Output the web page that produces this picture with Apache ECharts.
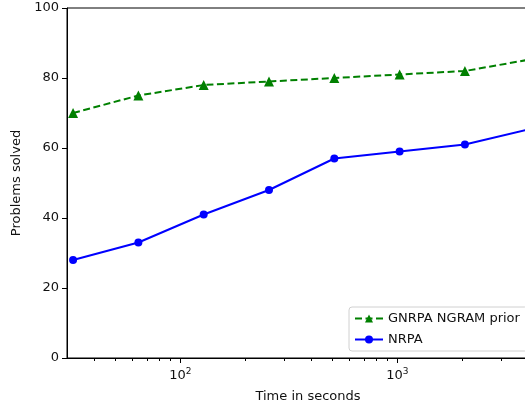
<!DOCTYPE html>
<html>
<head>
<meta charset="utf-8">
<script src="https://cdn.jsdelivr.net/npm/echarts@6/dist/echarts.min.js"></script>
<style>
  html, body { margin: 0; padding: 0; background: #fff; }
  #chart { width: 525px; height: 409px; }
</style>
</head>
<body>
<div id="chart"></div>
<script>
// data
const times = [32, 64, 128, 256, 512, 1024, 2048, 4096];
const gnrpa = [70, 75, 78, 79, 80, 81, 82, 85.3];
const nrpa = [28, 33, 41, 48, 57, 59, 61, 65.4];
const majorTicks = [100, 1000];
const minorTicks = [40, 50, 60, 70, 80, 90, 200, 300, 400, 500, 600, 700, 800, 900, 2000, 3000, 4000];

const font = 'DejaVu Sans';
const chart = echarts.init(document.getElementById('chart'));

chart.setOption({
  animation: false,
  textStyle: { fontFamily: font },
  grid: {
    left: 67, top: 8, width: 482, bottom: 51,
    outerBoundsMode: 'none', containLabel: false,
    show: true, borderColor: '#000', borderWidth: 1
  },
  legend: {
    orient: 'vertical',
    left: 349, top: 307,
    padding: [5, 8, 5, 5],
    itemGap: 8,
    itemWidth: 28, itemHeight: 10,
    borderColor: '#d0d0d0', borderWidth: 1, borderRadius: 3,
    backgroundColor: 'rgba(255,255,255,0.8)',
    textStyle: { fontFamily: font, fontSize: 13, color: '#111' },
    data: ['GNRPA NGRAM prior', 'NRPA']
  },
  xAxis: [{
    type: 'log', logBase: 10, min: 30, max: 5000,
    position: 'bottom',
    name: 'Time in seconds', nameLocation: 'middle', nameGap: 32,
    nameTextStyle: { fontFamily: font, fontSize: 13, color: '#111' },
    axisLine: { lineStyle: { color: '#000', width: 1 } },
    axisTick: { customValues: majorTicks, length: 5, lineStyle: { color: '#000' } },
    axisLabel: {
      customValues: majorTicks, margin: 9, color: '#111', fontSize: 13,
      formatter: v => '10{s|' + Math.round(Math.log10(v)) + '}',
      rich: { s: { fontSize: 9, verticalAlign: 'top', padding: [0, 0, 8, 0] } }
    },
    splitLine: { show: false }
  }, {
    type: 'log', logBase: 10, min: 30, max: 5000,
    position: 'bottom',
    axisLine: { show: false },
    axisTick: { customValues: minorTicks, length: 3, lineStyle: { color: '#000' } },
    axisLabel: { show: false },
    splitLine: { show: false }
  }],
  yAxis: {
    type: 'value', min: 0, max: 100, interval: 20,
    name: 'Problems solved', nameLocation: 'middle', nameGap: 37,
    nameTextStyle: { fontFamily: font, fontSize: 13, color: '#111' },
    axisLine: { show: true, lineStyle: { color: '#000', width: 1 } },
    axisTick: { show: true, length: 5, lineStyle: { color: '#000' } },
    axisLabel: { margin: 8, color: '#111', fontSize: 13 },
    splitLine: { show: false }
  },
  series: [{
    name: 'GNRPA NGRAM prior',
    type: 'line',
    xAxisIndex: 0,
    data: times.map((t, i) => [t, gnrpa[i]]),
    symbol: 'triangle', symbolSize: 10,
    itemStyle: { color: '#008000' },
    lineStyle: { color: '#008000', width: 2, type: [7, 3.5] },
    clip: true
  }, {
    name: 'NRPA',
    type: 'line',
    xAxisIndex: 0,
    data: times.map((t, i) => [t, nrpa[i]]),
    symbol: 'circle', symbolSize: 8,
    itemStyle: { color: '#0000ff' },
    lineStyle: { color: '#0000ff', width: 2 },
    clip: true
  }]
});
</script>
</body>
</html>
